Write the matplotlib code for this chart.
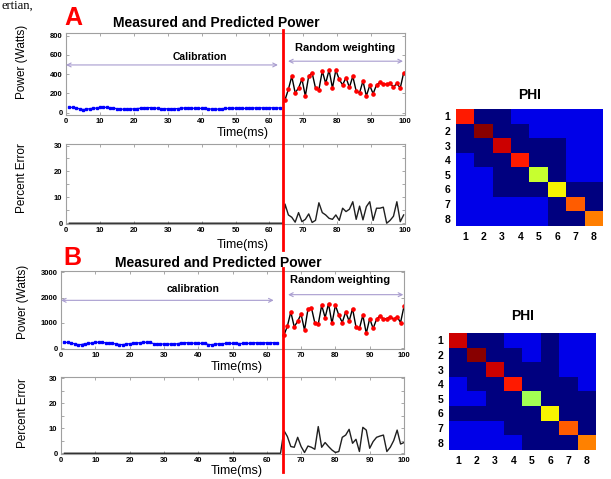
import numpy as np
import matplotlib
matplotlib.use("Agg")
import matplotlib.pyplot as plt
import matplotlib.transforms as mtransforms
from matplotlib.lines import Line2D

plt.rcParams["font.family"] = ["Liberation Sans", "DejaVu Sans"]

# ---- data ----
cal_t = np.arange(1, 64)
cal_A = [55, 55, 50, 40, 33, 35, 42, 45, 48, 55, 56, 55, 52, 47, 42, 40,
         35, 34, 37, 40, 43, 46, 50, 52, 53, 50, 45, 42, 41, 40, 40, 41,
         43, 45, 50, 48, 47, 45, 44, 45, 44, 42, 36, 35, 38, 42, 44, 45,
         46, 47, 45, 44, 45, 47, 48, 50, 51, 50, 49, 50, 51, 50, 49]
cal_B = [235, 230, 215, 170, 145, 150, 180, 195, 205, 235, 240, 235, 215,
         200, 190, 175, 150, 148, 160, 185, 195, 205, 225, 235, 238, 230,
         185, 175, 170, 170, 168, 170, 172, 178, 215, 222, 220, 210, 200,
         198, 195, 190, 150, 145, 160, 180, 185, 190, 195, 192, 190, 188,
         190, 195, 198, 215, 222, 220, 218, 220, 222, 220, 218]

rand_tA = np.arange(36) + 64.6
rand_tB = np.arange(36) + 65.0
rand_A = [132, 243, 378, 207, 256, 349, 174, 381, 414, 256, 240, 433, 305,
          443, 256, 443, 345, 289, 365, 263, 378, 224, 207, 329, 174, 283,
          197, 289, 315, 296, 296, 305, 266, 305, 256, 414]
rand_B = [521, 874, 1436, 847, 1071, 1345, 717, 1541, 1606, 1005, 953, 1698,
          1215, 1763, 979, 1698, 1306, 1018, 1436, 1071, 1567, 847, 782, 1306,
          587, 1175, 782, 1149, 1280, 1149, 1175, 1240, 1149, 1240, 1018, 1659]

zero_t = np.arange(1, 65)
err_A = [7.4, 3.2, 2.3, 0.4, 4.1, 0.6, 1.5, 3.6, 0.3, 1.1, 7.9, 4.1, 3.2,
         1.9, 1.5, 3.2, 1.1, 5.8, 4.5, 5.4, 8.3, 1.5, 6.6, 1.3, 6.4, 8.3,
         1.1, 5.8, 5.8, 6.2, 0.0, 1.1, 2.7, 8.3, 0.6, 3.2]
err_B = [9.1, 6.7, 2.7, 2.4, 6.4, 2.7, 0.3, 2.9, 2.4, 1.6, 10.7, 2.4, 4.3,
         2.7, 1.3, 0.3, 0.7, 6.4, 7.3, 9.6, 4.0, 5.6, 0.7, 10.4, 9.3, 2.0,
         4.7, 6.4, 6.9, 7.3, 0.7, 2.4, 5.1, 9.3, 3.7, 4.3]

switch_A = 64.0
switch_B = 64.8

phi_A = [
    [0.88, 0, 0, .09, .09, .09, .09, .09],
    [0, 0.99, 0, 0, .09, .09, .09, .09],
    [0, 0, 0.93, 0, 0, 0, .09, .09],
    [.09, 0, 0, 0.88, 0, 0, .09, .09],
    [.09, .09, 0, 0, 0.59, 0, .09, .09],
    [.09, .09, 0, 0, 0, 0.65, 0, 0],
    [.09, .09, .09, .09, .09, 0, 0.81, 0],
    [.09, .09, .09, .09, .09, 0, 0, 0.775],
]
phi_B = [
    [0.93, 0, 0, .09, .09, 0, .09, .09],
    [0, 0.99, 0, 0, .09, 0, .09, .09],
    [0, 0, 0.93, 0, 0, 0, .09, .09],
    [.09, 0, 0, 0.88, 0, 0, 0, .09],
    [.09, .09, 0, 0, 0.55, 0, 0, 0],
    [0, 0, 0, 0, 0, 0.65, 0, 0],
    [.09, .09, .09, 0, 0, 0, 0.81, 0],
    [.09, .09, .09, .09, 0, 0, 0, 0.77],
]
phi_labels = ["1", "2", "3", "4", "5", "6", "7", "8"]

# ---- layout helpers (pixel boxes -> figure fractions) ----
W, H = 611, 479
fig = plt.figure(figsize=(W / 100, H / 100), dpi=100)


def box(x0, y0, x1, y1):
    return [x0 / W, 1 - y1 / H, (x1 - x0) / W, (y1 - y0) / H]


def ftext(x, y, s, **kw):
    fig.text(x / W, 1 - y / H, s, ha="center", va="center", **kw)


ARROW = "#a89ccf"


def style(ax, ylim, yticks, yminor):
    ax.set_xlim(0, 100)
    ax.set_ylim(*ylim)
    ax.set_xticks(range(0, 101, 10))
    ax.set_yticks(yticks)
    ax.set_yticks(yminor, minor=True)
    ax.tick_params(direction="in", length=2.5, width=0.6, color="#9a9a9a",
                   labelsize=5.5, pad=2.5, top=True, right=True)
    ax.tick_params(which="minor", direction="in", length=2, width=0.6,
                   color="#9a9a9a", left=True, right=True)
    for lbl in ax.get_xticklabels() + ax.get_yticklabels():
        lbl.set_fontweight("bold")
    for s in ax.spines.values():
        s.set_color("#a0a0a0")
        s.set_linewidth(0.8)


def power_panel(rect, cal, rt, rv, ylim, yticks, cal_lbl, arrows, ypos):
    ax = fig.add_axes(rect)
    ax.plot(cal_t, cal, color="#0000ff", lw=0.9, marker="s", ms=1.6)
    ax.plot(rt, rv, color="black", lw=1.0, marker="o", ms=2.3,
            mfc="red", mec="red")
    style(ax, ylim, yticks, [])
    for a, b, y in arrows:
        ax.annotate("", xy=(a, y), xytext=(b, y),
                    arrowprops=dict(arrowstyle="<->", color=ARROW, lw=0.8,
                                    shrinkA=0, shrinkB=0, mutation_scale=7))
    ax.text(ypos[0], ypos[1], cal_lbl, ha="center", va="center",
            fontsize=7.5, fontweight="bold")
    ax.text(ypos[2], ypos[3], "Random weighting", ha="center", va="center",
            fontsize=8, fontweight="bold")
    return ax


def error_panel(rect, rt, ev):
    ax = fig.add_axes(rect)
    t = np.concatenate([zero_t, rt])
    v = np.concatenate([np.zeros(len(zero_t)), ev])
    ax.plot(t, v, color="#202020", lw=1.0)
    style(ax, (-0.3, 30.6), [0, 10, 20, 30], [5, 15, 25])
    return ax


def phi_panel(rect, mat):
    ax = fig.add_axes(rect)
    ax.imshow(mat, cmap="jet", vmin=0, vmax=1, aspect="auto",
              interpolation="nearest")
    ax.set_xticks(range(8))
    ax.set_yticks(range(8))
    ax.set_xticklabels(phi_labels, fontsize=7.5, fontweight="bold")
    ax.set_yticklabels(phi_labels, fontsize=7.5, fontweight="bold")
    ax.tick_params(length=0, pad=4)
    for s in ax.spines.values():
        s.set_visible(False)
    return ax


# ---- panel A ----
axA1 = power_panel(box(66, 33, 405, 115), cal_A, rand_tA, rand_A,
                   (-24, 828), range(0, 801, 200), "Calibration",
                   ((0, 62.5, 496), (65.5, 99.4, 535)),
                   (39.5, 580, 82.3, 674))
axA2 = error_panel(box(66, 144, 405, 224), rand_tA, err_A)

# ---- panel B ----
axB1 = power_panel(box(61, 271, 404, 349), cal_B, rand_tB, rand_B,
                   (-27, 3050), range(0, 3001, 1000), "calibration",
                   ((0, 62, 1893), (66.2, 99.8, 2116)),
                   (38.6, 2325, 81.3, 2705))
axB2 = error_panel(box(61, 377, 404, 454), rand_tB, err_B)

# red switch lines spanning both panels
for ax, x, y0, y1 in [(axA1, switch_A, 30, 250), (axB1, switch_B, 268, 472)]:
    tr = mtransforms.blended_transform_factory(ax.transData, fig.transFigure)
    fig.add_artist(Line2D([x, x], [1 - y0 / H, 1 - y1 / H], transform=tr,
                          color="#ff0000", lw=2))

# PHI matrices
phi_panel(box(456, 109, 603, 226), phi_A)
phi_panel(box(449, 333, 596, 450), phi_B)
ftext(530, 95, "PHI", fontsize=10, fontweight="bold")
ftext(523, 316, "PHI", fontsize=10, fontweight="bold")

# titles, labels
ftext(73, 18, "A", fontsize=18, fontweight="bold", color="#ff0000")
ftext(72, 258, "B", fontsize=18, fontweight="bold", color="#ff0000")
ftext(216, 23, "Measured and Predicted Power", fontsize=10, fontweight="bold")
ftext(218, 263, "Measured and Predicted Power", fontsize=10, fontweight="bold")
ftext(243, 133, "Time(ms)", fontsize=9)
ftext(243, 245, "Time(ms)", fontsize=9)
ftext(237, 367, "Time(ms)", fontsize=9)
ftext(237, 471, "Time(ms)", fontsize=9)
ftext(22, 62, "Power (Watts)", fontsize=8.5, rotation=90)
ftext(22, 178, "Percent Error", fontsize=8.5, rotation=90)
ftext(23, 302, "Power (Watts)", fontsize=8.5, rotation=90)
ftext(23, 413, "Percent Error", fontsize=8.5, rotation=90)

# fragment of body text at the very top
fig.text(0.002, 1.0, "ertian,", family="Liberation Serif", fontsize=9,
         ha="left", va="top")

fig.savefig("out.png", dpi=100)
